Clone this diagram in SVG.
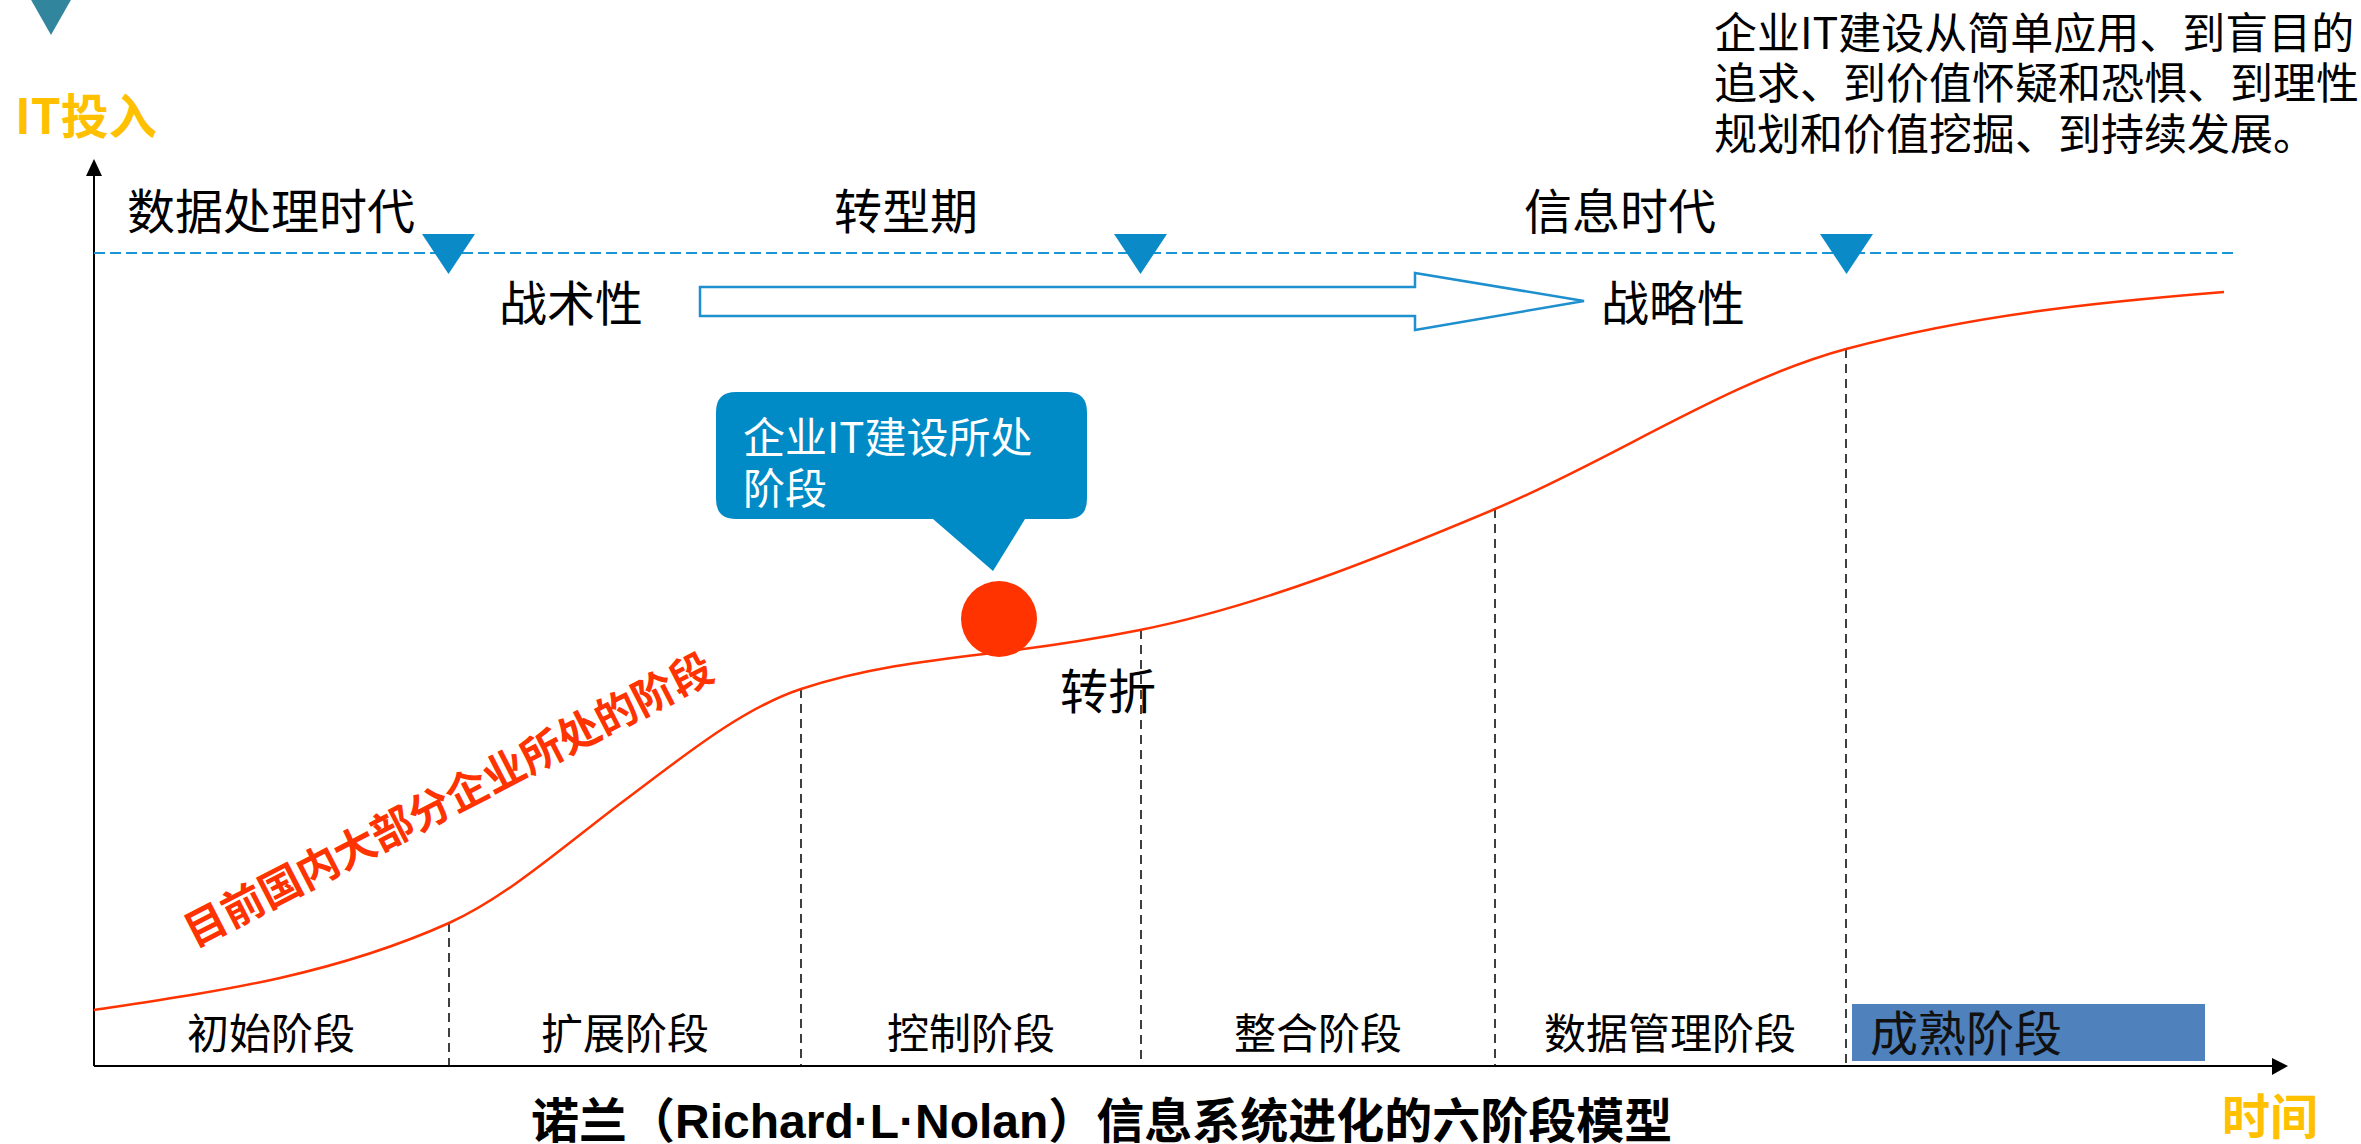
<svg xmlns="http://www.w3.org/2000/svg" width="2361" height="1144" viewBox="0 0 2361 1144">
<defs>
<style>
.cjk{font-family:"Noto Sans CJK SC","Noto Sans",sans-serif;fill:#000}
.hdr{font-size:48px}
.stg{font-size:42px;text-anchor:middle}
.orange{font-family:"Noto Sans CJK SC",sans-serif;font-weight:bold;fill:#FFC000;font-size:48px}
.vdash{stroke:#000;stroke-width:1.5;stroke-dasharray:9 6;fill:none}
.tri{fill:#0A8BC8}
</style>
</defs>
<rect width="2361" height="1144" fill="#fff"/>
<polygon id="top-marker" points="30,-2 72,-2 51,35" fill="#31859C"/>
<text id="y-label" class="orange" x="15" y="134">IT投入</text>
<text id="x-label" class="orange" x="2222" y="1134">时间</text>
<g id="connectors">
<line x1="94" y1="1066" x2="94" y2="172" stroke="#000" stroke-width="2"/>
<polygon points="94,159 86,176 102,176" fill="#000"/>
<line x1="94" y1="1066" x2="2274" y2="1066" stroke="#000" stroke-width="2"/>
<polygon points="2288,1066 2272,1058 2272,1075" fill="#000"/>
<line x1="94" y1="253" x2="2236" y2="253" stroke="#1A96D4" stroke-width="2" stroke-dasharray="11 5"/>
<line class="vdash" x1="449" y1="923" x2="449" y2="1066"/>
<line class="vdash" x1="801" y1="689" x2="801" y2="1066"/>
<line class="vdash" x1="1141" y1="630" x2="1141" y2="1066"/>
<line class="vdash" x1="1495" y1="509" x2="1495" y2="1066"/>
<line class="vdash" x1="1846" y1="349" x2="1846" y2="1066"/>
<path id="curve" d="M94,1010 C212.3,992.3 330.7,976.2 449,923 C507.7,896.6 566.3,844 625,800 C683.7,756 742.3,708.4 801,689 C867.3,667.1 933.7,660 1000,652 C1046.7,646.4 1093.3,639.3 1140,630 C1258.3,606.3 1376.7,558.7 1495,509 C1612,459.9 1729,380.6 1846,349 C1972,315 2098,302.1 2224,292" fill="none" stroke="#FF3300" stroke-width="2.5"/>
<polygon id="hollow-arrow" points="700,287 1415,287 1415,273 1584,301 1415,330 1415,316 700,316" fill="#fff" stroke="#1E8FCF" stroke-width="2.5"/>
</g>
<g id="era-markers">
<polygon class="tri" points="422,234 475,234 448.5,274"/>
<polygon class="tri" points="1114,234 1167,234 1140.5,274"/>
<polygon class="tri" points="1820,234 1873,234 1846.5,274"/>
</g>
<g id="eras">
<text class="cjk hdr" x="127" y="229">数据处理时代</text>
<text class="cjk hdr" x="834" y="229">转型期</text>
<text class="cjk hdr" x="1524" y="229">信息时代</text>
<text class="cjk hdr" x="499" y="321">战术性</text>
<text class="cjk hdr" x="1601" y="321">战略性</text>
</g>
<g id="note">
<text class="cjk" font-size="43" x="1714" y="49">企业IT建设从简单应用、到盲目的</text>
<text class="cjk" font-size="43" x="1714" y="99">追求、到价值怀疑和恐惧、到理性</text>
<text class="cjk" font-size="43" x="1714" y="150">规划和价值挖掘、到持续发展。</text>
</g>
<g id="callout">
<path d="M736,392 H1067 Q1087,392 1087,412 V499 Q1087,519 1067,519 H1025 L993,571 L933,519 H736 Q716,519 716,499 V412 Q716,392 736,392 Z" fill="#008BC6"/>
<text class="cjk" font-size="42" x="743" y="453" style="fill:#fff">企业IT建设所处</text>
<text class="cjk" font-size="42" x="743" y="504" style="fill:#fff">阶段</text>
</g>
<circle id="current-point" cx="999" cy="619" r="38" fill="#FF3300"/>
<text id="turn-label" class="cjk hdr" x="1060" y="709">转折</text>
<text id="majority-label" class="cjk" font-size="42" font-weight="bold" transform="translate(194,948) rotate(-27.3)" style="fill:#FF3300">目前国内大部分企业所处的阶段</text>
<g id="stages">
<text class="cjk stg" x="271" y="1049">初始阶段</text>
<text class="cjk stg" x="625" y="1049">扩展阶段</text>
<text class="cjk stg" x="971" y="1049">控制阶段</text>
<text class="cjk stg" x="1318" y="1049">整合阶段</text>
<text class="cjk stg" x="1670" y="1049">数据管理阶段</text>
<g id="mature-stage">
<rect x="1852" y="1004" width="353" height="57" fill="#4F81BD"/>
<text class="cjk" font-size="48" x="1870" y="1051" style="fill:#111">成熟阶段</text>
</g>
</g>
<text id="title" x="531" y="1138" font-family="'Liberation Sans','Noto Sans CJK SC',sans-serif" font-weight="bold" font-size="48" fill="#000">诺兰（Richard·L·Nolan）信息系统进化的六阶段模型</text>
</svg>
